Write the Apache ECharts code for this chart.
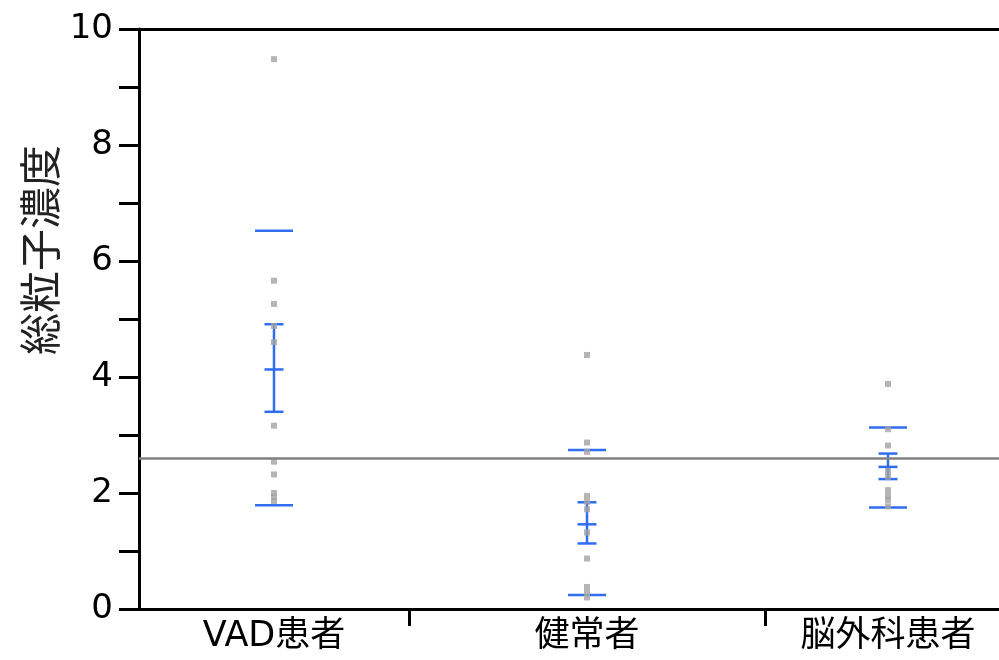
<!DOCTYPE html>
<html>
<head>
<meta charset="utf-8">
<script src="https://cdn.jsdelivr.net/npm/echarts@6/dist/echarts.min.js"></script>
<style>
html, body { margin: 0; padding: 0; background: #fff; }
#chart { width: 999px; height: 660px; }
</style>
</head>
<body>
<div id="chart"></div>
<script>
// groups and the x range each one takes (JMP style, width by group)
var groups = ['VAD患者', '健常者', '脳外科患者'];
var groupEdges = [0, 270, 626, 872];

// raw measurements per group
var vadPoints = [9.48, 5.66, 5.26, 4.88, 4.60, 3.16, 2.54, 2.32, 2.00, 1.93, 1.86];
var healthyPoints = [4.38, 2.87, 2.71, 1.95, 1.85, 1.72, 1.32, 0.87, 0.38, 0.28, 0.20];
var brainPoints = [3.88, 3.10, 2.82, 2.38, 2.28, 2.05, 1.95, 1.88, 1.77];

// summary per group: mean, inner bar (se), outer lines (sd)
var means = [4.13, 1.46, 2.45];
var seLow = [3.40, 1.13, 2.24];
var seHigh = [4.91, 1.84, 2.68];
var sdLow = [1.79, 0.24, 1.75];
var sdHigh = [6.52, 2.74, 3.13];

// overall mean line
var grandMean = 2.6;

var yTicks = [0, 2, 4, 6, 8, 10];

var centers = [];
for (var i = 0; i < groups.length; i++) {
    centers.push((groupEdges[i] + groupEdges[i + 1]) / 2);
}

function toPairs(points, x) {
    return points.map(function (v) { return [x, v]; });
}

var summaryData = [];
for (var j = 0; j < groups.length; j++) {
    summaryData.push([centers[j], means[j], seLow[j], seHigh[j], sdLow[j], sdHigh[j]]);
}

var blue = '#2f6ef2';
var dotColor = '#a2a2a2';

var chart = echarts.init(document.getElementById('chart'));
var option = {
    animation: false,
    grid: {
        left: 139,
        right: -12,
        top: 29,
        bottom: 51,
        containLabel: false,
        outerBoundsMode: 'none'
    },
    graphic: [{
        type: 'text',
        x: 40,
        y: 250,
        rotation: Math.PI / 2,
        style: {
            text: '総粒子濃度',
            font: '42px "Noto Sans CJK JP"',
            fill: '#222',
            textAlign: 'center',
            textVerticalAlign: 'middle'
        }
    }],
    xAxis: [{
        type: 'value',
        min: groupEdges[0],
        max: groupEdges[groupEdges.length - 1],
        splitLine: { show: false },
        axisLine: { show: true, lineStyle: { color: '#000', width: 3 } },
        axisTick: {
            show: true,
            customValues: groupEdges.slice(1, groupEdges.length - 1),
            length: 17,
            lineStyle: { color: '#000', width: 3 }
        },
        axisLabel: {
            customValues: centers,
            formatter: function (v) {
                var k = centers.indexOf(v);
                return k >= 0 ? groups[k] : '';
            },
            margin: 10,
            color: '#000',
            fontSize: 35,
            fontFamily: '"DejaVu Sans", "Noto Sans CJK JP"'
        }
    }, {
        // top frame line only
        type: 'value',
        position: 'top',
        min: groupEdges[0],
        max: groupEdges[groupEdges.length - 1],
        splitLine: { show: false },
        axisLine: { show: true, lineStyle: { color: '#000', width: 3 } },
        axisTick: { show: false },
        axisLabel: { show: false }
    }],
    yAxis: {
        type: 'value',
        min: 0,
        max: 10,
        interval: 1,
        splitLine: { show: false },
        axisLine: { show: true, lineStyle: { color: '#000', width: 3 } },
        axisTick: { show: true, length: 20, lineStyle: { color: '#000', width: 3 } },
        axisLabel: {
            formatter: function (v) {
                return yTicks.indexOf(v) >= 0 ? String(v) : '';
            },
            margin: 26,
            color: '#000',
            fontSize: 34,
            fontFamily: '"DejaVu Sans"'
        }
    },
    series: [
        {
            type: 'custom',
            z: 3,
            silent: true,
            data: summaryData,
            renderItem: function (params, api) {
                var x = api.value(0);
                var m = api.coord([x, api.value(1)]);
                var lo = api.coord([x, api.value(2)]);
                var hi = api.coord([x, api.value(3)]);
                var sl = api.coord([x, api.value(4)]);
                var sh = api.coord([x, api.value(5)]);
                var st = { stroke: blue, lineWidth: 2.5 };
                var cap = 9.5, wide = 19;
                function hline(p, w) {
                    return { type: 'line', shape: { x1: p[0] - w, y1: p[1], x2: p[0] + w, y2: p[1] }, style: st };
                }
                return {
                    type: 'group',
                    children: [
                        { type: 'line', shape: { x1: lo[0], y1: lo[1], x2: hi[0], y2: hi[1] }, style: st },
                        hline(lo, cap),
                        hline(hi, cap),
                        hline(m, cap),
                        hline(sl, wide),
                        hline(sh, wide)
                    ]
                };
            }
        },
        {
            type: 'scatter',
            name: groups[0],
            z: 4,
            symbol: 'rect',
            symbolSize: 6,
            itemStyle: { color: dotColor },
            data: toPairs(vadPoints, centers[0]),
            markLine: {
                silent: true,
                symbol: 'none',
                label: { show: false },
                lineStyle: { color: '#808080', width: 2.5, type: 'solid' },
                data: [{ yAxis: grandMean }]
            }
        },
        {
            type: 'scatter',
            name: groups[1],
            z: 4,
            symbol: 'rect',
            symbolSize: 6,
            itemStyle: { color: dotColor },
            data: toPairs(healthyPoints, centers[1])
        },
        {
            type: 'scatter',
            name: groups[2],
            z: 4,
            symbol: 'rect',
            symbolSize: 6,
            itemStyle: { color: dotColor },
            data: toPairs(brainPoints, centers[2])
        }
    ]
};
chart.setOption(option);
window.addEventListener('resize', function () {
    chart.resize();
});
</script>
</body>
</html>
